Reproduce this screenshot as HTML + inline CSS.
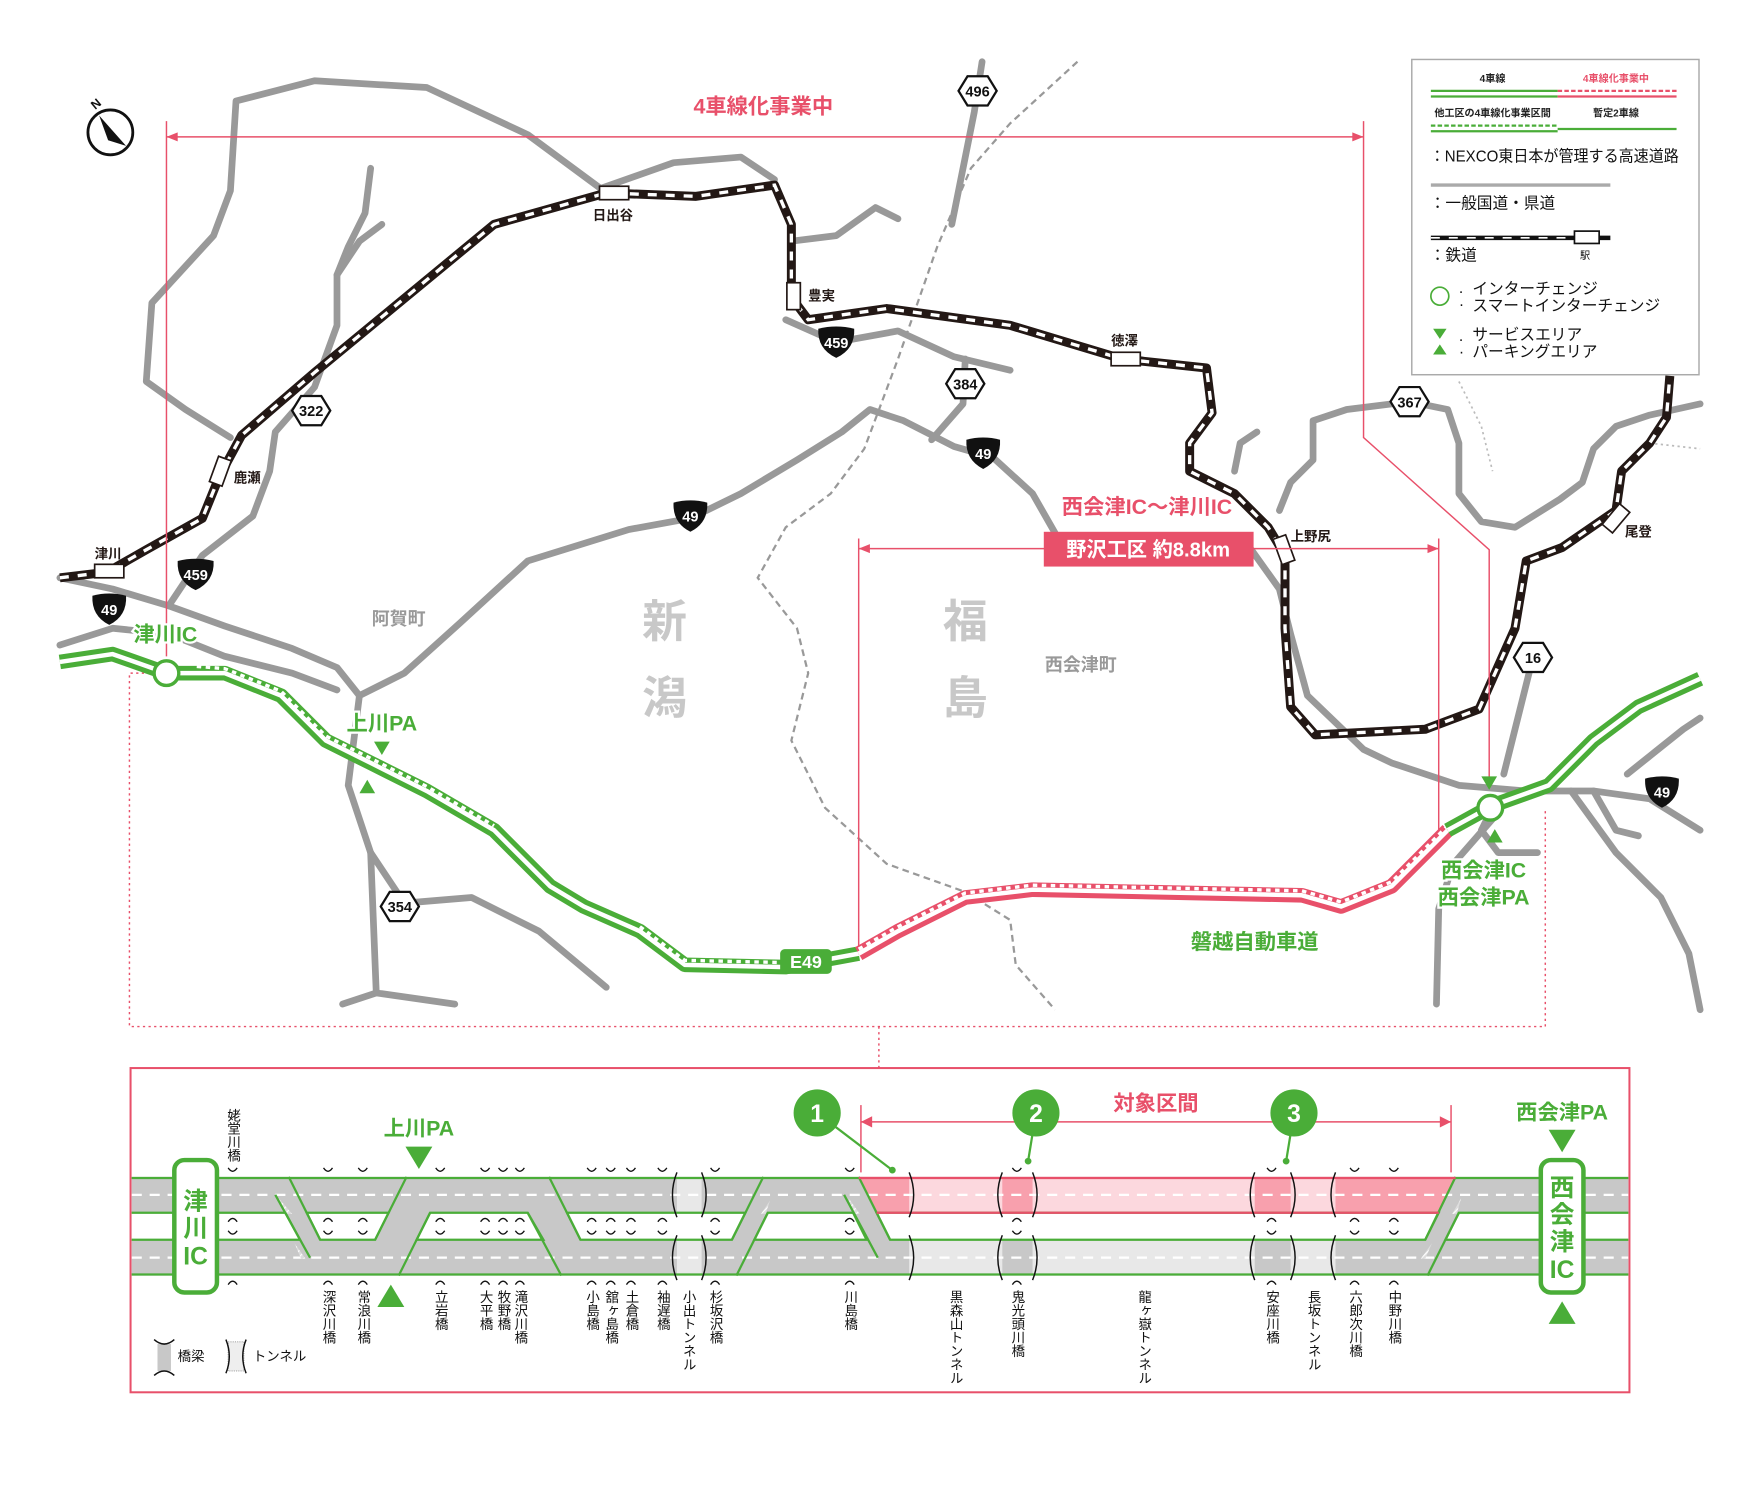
<!DOCTYPE html>
<html><head><meta charset="utf-8">
<style>
html,body{margin:0;padding:0;background:#fff;}
svg{display:block;}
text{font-family:"Liberation Sans","Noto Sans CJK JP",sans-serif;}
</style></head>
<body>
<svg width="1760" height="1500" viewBox="0 0 1568 1337" xmlns="http://www.w3.org/2000/svg">
<defs>
<pattern id="hat" width="4" height="4" patternUnits="userSpaceOnUse" patternTransform="rotate(45)"><rect width="4" height="4" fill="#ddd"/><line x1="0" y1="0" x2="0" y2="4" stroke="#fff" stroke-width="2"/></pattern>
</defs>
<rect width="1568" height="1337" fill="#fff"/>

<!-- prefecture boundary -->
<path d="M960,55 L900,110 L865,150 L835,220 L800,320 L770,400 L740,440 L700,470 L675,515 L710,560 L720,600 L705,660 L735,720 L790,770 L860,795 L900,820 L905,860 L940,900" fill="none" stroke="#999" stroke-width="2" stroke-dasharray="6 4"/>
<path d="M1300,340 L1320,380 L1330,420" fill="none" stroke="#bbb" stroke-width="1.5" stroke-dasharray="2 3"/>
<path d="M1470,395 L1515,400" fill="none" stroke="#bbb" stroke-width="1.5" stroke-dasharray="2 3"/>

<!-- gray roads -->
<g fill="none" stroke="#999" stroke-width="6" stroke-linejoin="round" stroke-linecap="round">
<path d="M205,390 L165,365 L130,340 L135,270 L190,210 L205,170 L210,90 L280,72 L380,78 L470,120 L535,168"/>
<path d="M535,168 L600,145 L660,140 L690,160"/>
<path d="M705,215 L745,210 L780,185 L800,195"/>
<path d="M150,540 L180,495 L225,460 L240,420 L245,385 L280,345 L300,290 L300,245 L310,220 L325,190 L330,150"/>
<path d="M300,245 L320,215 L340,200"/>
<path d="M53,515 L100,525 L150,540 L200,558 L260,578 L300,595 L320,620 L360,600 L410,555 L470,500 L560,472 L615,462 L660,440 L710,410 L750,385 L775,365 L805,375 L850,398 L885,408 L920,440 L940,475"/>
<path d="M830,392 L858,360 L860,320"/>
<path d="M875,55 L868,100 L858,150 L848,200"/>
<path d="M700,285 L745,305 L800,295 L850,318 L900,330"/>
<path d="M320,620 L310,700 L330,760 L335,885 L305,895"/>
<path d="M335,885 L405,895"/>
<path d="M330,760 L360,805 L420,800 L480,830 L540,880"/>
<path d="M53,575 L100,560 L150,565 L200,585 L260,600 L300,615"/>
<path d="M1115,490 L1140,525 L1150,565 L1165,620 L1215,668 L1240,680 L1300,700 L1360,705 L1420,705 L1470,712 L1515,740"/>
<path d="M1140,455 L1150,430 L1170,410 L1170,375 L1200,365 L1256,358 L1290,365 L1300,395 L1300,440 L1320,465 L1350,470 L1390,445 L1410,430 L1420,400 L1440,380 L1470,370 L1515,360"/>
<path d="M1100,420 L1105,395 L1120,385"/>
<path d="M1366,586 L1355,630 L1340,690"/>
<path d="M1330,730 L1295,770 L1282,810 L1280,895"/>
<path d="M1400,705 L1440,760 L1480,800 L1505,850 L1515,900"/>
<path d="M1450,690 L1500,650 L1515,640"/>
<path d="M1420,705 L1440,740 L1460,745"/>
<path d="M1330,720 L1320,740 L1335,760 L1370,760"/>
</g>

<!-- railway -->
<path d="M53,515 L95,510 L130,490 L180,462 L195,425 L215,388 L280,332 L440,200 L540,172 L620,175 L690,165 L705,200 L705,265 L720,285 L790,275 L900,290 L1000,320 L1075,328 L1080,368 L1060,395 L1060,420 L1100,440 L1130,470 L1145,495 L1145,560 L1150,630 L1172,655 L1270,650 L1318,632 L1350,560 L1360,500 L1392,488 L1440,455 L1445,420 L1470,395 L1485,372 L1488,335" fill="none" stroke="#231815" stroke-width="8" stroke-linejoin="round"/>
<path d="M53,515 L95,510 L130,490 L180,462 L195,425 L215,388 L280,332 L440,200 L540,172 L620,175 L690,165 L705,200 L705,265 L720,285 L790,275 L900,290 L1000,320 L1075,328 L1080,368 L1060,395 L1060,420 L1100,440 L1130,470 L1145,495 L1145,560 L1150,630 L1172,655 L1270,650 L1318,632 L1350,560 L1360,500 L1392,488 L1440,455 L1445,420 L1470,395 L1485,372 L1488,335" fill="none" stroke="#fff" stroke-width="3" stroke-dasharray="8 8"/>
<g fill="#fff" stroke="#231815" stroke-width="1.5">
<rect x="84" y="503" width="26" height="12"/>
<rect x="190" y="408" width="12" height="24" transform="rotate(20 196 420)"/>
<rect x="534" y="166" width="26" height="12"/>
<rect x="701" y="252" width="12" height="24"/>
<rect x="990" y="314" width="26" height="12"/>
<rect x="1138" y="478" width="12" height="24" transform="rotate(-20 1144 490)"/>
<rect x="1434" y="450" width="12" height="24" transform="rotate(40 1440 462)"/>
</g>
<g font-size="12" font-weight="bold" fill="#231815">
<text x="84" y="498">津川</text>
<text x="208" y="430">鹿瀬</text>
<text x="528" y="196">日出谷</text>
<text x="720" y="268">豊実</text>
<text x="990" y="308">徳澤</text>
<text x="1150" y="482">上野尻</text>
<text x="1448" y="478">尾登</text>
</g>

<!-- red range markers -->
<g stroke="#e8506a" stroke-width="1.3" fill="none">
<path d="M148,108 L148,585"/>
<path d="M1215,108 L1215,390 L1327,490 L1327,700"/>
<path d="M148,122 L1215,122"/>
<path d="M765,480 L765,850"/>
<path d="M1282,480 L1282,740"/>
<path d="M765,489 L1282,489"/>
</g>
<g fill="#e8506a">
<path d="M148,122 l10,-4 v8z"/><path d="M1215,122 l-10,-4 v8z"/>
<path d="M765,489 l10,-4 v8z"/><path d="M1282,489 l-10,-4 v8z"/>
</g>
<text x="680" y="101" font-size="19" font-weight="bold" fill="#e8506a" text-anchor="middle">4車線化事業中</text>
<text x="1022" y="458" font-size="19" font-weight="bold" fill="#e8506a" text-anchor="middle" stroke="#fff" stroke-width="4" paint-order="stroke">西会津IC〜津川IC</text>
<rect x="930" y="474" width="187" height="31" fill="#e8506a"/>
<text x="1023" y="496" font-size="18" font-weight="bold" fill="#fff" text-anchor="middle">野沢工区  約8.8km</text>

<!-- dotted frame -->
<path d="M148,600 L115,600 L115,915 L1377,915 L1377,720" fill="none" stroke="#e8506a" stroke-width="1.3" stroke-dasharray="2 3"/>
<path d="M783,915 L783,952" fill="none" stroke="#e8506a" stroke-width="1.3" stroke-dasharray="2 3"/>

<!-- expressway -->
<g fill="none" stroke-linejoin="round">
<path d="M53,590 L100,583 L148,600 L200,600 L250,620 L290,660 L330,680 L380,705 L440,740 L490,790 L520,808 L570,830 L610,860 L700,862 L765,850" stroke="#4aad38" stroke-width="13"/>
<path d="M53,590 L100,583 L148,600 L200,600 L250,620 L290,660 L330,680 L380,705 L440,740 L490,790 L520,808 L570,830 L610,860 L700,862 L765,850" stroke="#fff" stroke-width="4"/>
<path d="M175,598 L200,600 L250,620 L290,660 L330,680 L380,705 L440,740" stroke="#fff" stroke-width="3" stroke-dasharray="4 4" transform="translate(0,-4)"/>
<path d="M570,830 L610,860 L700,862" stroke="#fff" stroke-width="3" stroke-dasharray="4 4" transform="translate(0,-4)"/>
<path d="M765,850 L800,830 L860,800 L920,793 L1160,798 L1195,808 L1240,790 L1290,740" stroke="#e8506a" stroke-width="13"/>
<path d="M765,850 L800,830 L860,800 L920,793 L1160,798 L1195,808 L1240,790 L1290,740" stroke="#fff" stroke-width="4"/>
<path d="M765,850 L800,830 L860,800 L920,793 L1160,798 L1195,808 L1240,790 L1290,740" stroke="#fff" stroke-width="3" stroke-dasharray="4 4" transform="translate(0,-4)"/>
<path d="M1290,740 L1330,718 L1380,700 L1420,660 L1460,630 L1515,605" stroke="#4aad38" stroke-width="13"/>
<path d="M1290,740 L1330,718 L1380,700 L1420,660 L1460,630 L1515,605" stroke="#fff" stroke-width="4"/>
</g>
<circle cx="148" cy="600" r="11" fill="#fff" stroke="#4aad38" stroke-width="3"/>
<circle cx="1328" cy="720" r="11" fill="#fff" stroke="#4aad38" stroke-width="3"/>
<g fill="#4aad38">
<path d="M333,661 h14 l-7,12z"/><path d="M320,707 h14 l-7,-12z"/>
<path d="M1320,692 h14 l-7,12z"/><path d="M1325,751 h14 l-7,-12z"/>
</g>
<rect x="695" y="846" width="46" height="22" rx="4" fill="#4aad38"/>
<text x="718" y="863" font-size="16" font-weight="bold" fill="#fff" text-anchor="middle">E49</text>
<g font-weight="bold" fill="#4aad38" stroke="#fff" stroke-width="4" paint-order="stroke">
<text x="147" y="572" font-size="19" text-anchor="middle">津川IC</text>
<text x="340" y="651" font-size="19" text-anchor="middle">上川PA</text>
<text x="1322" y="782" font-size="19" text-anchor="middle">西会津IC</text>
<text x="1322" y="806" font-size="19" text-anchor="middle">西会津PA</text>
<text x="1118" y="846" font-size="19" text-anchor="middle">磐越自動車道</text>
</g>

<!-- place labels -->
<g fill="#c8c8c8" font-size="40" font-weight="bold" text-anchor="middle">
<text x="592" y="568">新</text><text x="592" y="636">潟</text>
<text x="860" y="568">福</text><text x="860" y="636">島</text>
</g>
<text x="355" y="557" font-size="16" font-weight="bold" fill="#999" text-anchor="middle">阿賀町</text>
<text x="963" y="598" font-size="16" font-weight="bold" fill="#999" text-anchor="middle">西会津町</text>

<!-- route shields -->
<g>
<g transform="translate(97,543)"><path d="M-15,-12 Q0,-16 15,-12 Q16,6 0,14 Q-16,6 -15,-12z" fill="#111"/><text y="5" font-size="13" font-weight="bold" fill="#fff" text-anchor="middle">49</text></g>
<g transform="translate(615,460)"><path d="M-15,-12 Q0,-16 15,-12 Q16,6 0,14 Q-16,6 -15,-12z" fill="#111"/><text y="5" font-size="13" font-weight="bold" fill="#fff" text-anchor="middle">49</text></g>
<g transform="translate(876,404)"><path d="M-15,-12 Q0,-16 15,-12 Q16,6 0,14 Q-16,6 -15,-12z" fill="#111"/><text y="5" font-size="13" font-weight="bold" fill="#fff" text-anchor="middle">49</text></g>
<g transform="translate(1481,706)"><path d="M-15,-12 Q0,-16 15,-12 Q16,6 0,14 Q-16,6 -15,-12z" fill="#111"/><text y="5" font-size="13" font-weight="bold" fill="#fff" text-anchor="middle">49</text></g>
<g transform="translate(174,512)"><path d="M-16,-12 Q0,-16 16,-12 Q17,6 0,14 Q-17,6 -16,-12z" fill="#111"/><text y="5" font-size="13" font-weight="bold" fill="#fff" text-anchor="middle">459</text></g>
<g transform="translate(745,305)"><path d="M-16,-12 Q0,-16 16,-12 Q17,6 0,14 Q-17,6 -16,-12z" fill="#111"/><text y="5" font-size="13" font-weight="bold" fill="#fff" text-anchor="middle">459</text></g>
</g>
<g fill="#fff" stroke="#111" stroke-width="2">
<path d="M-17,0 L-9,-13 L9,-13 L17,0 L9,13 L-9,13z" transform="translate(871,81)"/>
<path d="M-17,0 L-9,-13 L9,-13 L17,0 L9,13 L-9,13z" transform="translate(277,366)"/>
<path d="M-17,0 L-9,-13 L9,-13 L17,0 L9,13 L-9,13z" transform="translate(860,342)"/>
<path d="M-17,0 L-9,-13 L9,-13 L17,0 L9,13 L-9,13z" transform="translate(1256,358)"/>
<path d="M-17,0 L-9,-13 L9,-13 L17,0 L9,13 L-9,13z" transform="translate(1366,586)"/>
<path d="M-17,0 L-9,-13 L9,-13 L17,0 L9,13 L-9,13z" transform="translate(356,808)"/>
</g>
<g font-size="13" font-weight="bold" fill="#111" text-anchor="middle">
<text x="871" y="86">496</text><text x="277" y="371">322</text><text x="860" y="347">384</text>
<text x="1256" y="363">367</text><text x="1366" y="591">16</text><text x="356" y="813">354</text>
</g>

<!-- compass -->
<circle cx="98" cy="118" r="20" fill="#fff" stroke="#111" stroke-width="2.5"/>
<path d="M88,103 L112,130 L96,125z" fill="#111"/>
<text x="82" y="99" font-size="11" font-weight="bold" fill="#111" transform="rotate(-40 82 95)">N</text>

<!-- legend -->
<rect x="1258" y="53" width="256" height="281" fill="#fff" stroke="#aaa" stroke-width="1.3"/>
<g font-size="9" font-weight="bold">
<text x="1330" y="73" text-anchor="middle" fill="#222">4車線</text>
<text x="1440" y="73" text-anchor="middle" fill="#e8506a">4車線化事業中</text>
<text x="1330" y="104" text-anchor="middle" fill="#222">他工区の4車線化事業区間</text>
<text x="1440" y="104" text-anchor="middle" fill="#222">暫定2車線</text>
</g>
<g stroke-width="2">
<line x1="1275" y1="81" x2="1388" y2="81" stroke="#4aad38"/><line x1="1275" y1="86" x2="1388" y2="86" stroke="#4aad38"/>
<line x1="1388" y1="81" x2="1494" y2="81" stroke="#e8506a" stroke-dasharray="4 2"/><line x1="1388" y1="86" x2="1494" y2="86" stroke="#e8506a"/>
<line x1="1275" y1="112" x2="1388" y2="112" stroke="#4aad38" stroke-dasharray="4 2"/><line x1="1275" y1="117" x2="1388" y2="117" stroke="#4aad38"/>
<line x1="1388" y1="115" x2="1494" y2="115" stroke="#4aad38"/>
<line x1="1275" y1="165" x2="1435" y2="165" stroke="#aaa" stroke-width="3"/>
</g>
<line x1="1275" y1="212" x2="1435" y2="212" stroke="#111" stroke-width="4"/>
<line x1="1275" y1="212" x2="1400" y2="212" stroke="#fff" stroke-width="1.5" stroke-dasharray="8 8"/>
<rect x="1403" y="206" width="22" height="11" fill="#fff" stroke="#111" stroke-width="1.5"/>
<g font-size="14" fill="#111">
<text x="1274" y="144" textLength="222" lengthAdjust="spacingAndGlyphs">：NEXCO東日本が管理する高速道路</text>
<text x="1274" y="186">：一般国道・県道</text>
<text x="1274" y="232">：鉄道</text>
<text x="1408" y="231" font-size="9">駅</text>
<text x="1300" y="261">.</text><text x="1300" y="276">·</text>
<text x="1312" y="262">インターチェンジ</text>
<text x="1312" y="277">スマートインターチェンジ</text>
<text x="1300" y="304">.</text><text x="1300" y="318">·</text>
<text x="1312" y="303">サービスエリア</text>
<text x="1312" y="318">パーキングエリア</text>
</g>
<circle cx="1283" cy="264" r="8" fill="none" stroke="#4aad38" stroke-width="1.5"/>
<path d="M1277,293 h12 l-6,9z M1277,316 h12 l-6,-9z" fill="#4aad38"/>

<!-- ===== bottom diagram ===== -->
<rect x="116" y="952" width="1336" height="289" fill="#fff" stroke="#e8506a" stroke-width="1.8"/>
<rect x="117" y="1049" width="1334" height="88" fill="#c8c8c8"/>
<path d="M765,1049 L1297,1049 L1282,1081 L781,1081z" fill="#f8a0ad"/>
<rect x="810" y="1049" width="83" height="32" fill="#fcd8de"/>
<rect x="920" y="1049" width="198" height="32" fill="#fcd8de"/>
<rect x="1150" y="1049" width="40" height="32" fill="#fcd8de"/>
<rect x="810" y="1105" width="83" height="32" fill="#e8e8e8"/>
<rect x="920" y="1105" width="198" height="32" fill="#e8e8e8"/>
<rect x="1150" y="1105" width="40" height="32" fill="#e8e8e8"/>
<rect x="603" y="1049" width="22" height="32" fill="#e8e8e8"/>
<rect x="603" y="1105" width="22" height="32" fill="#e8e8e8"/>
<g stroke="#fff" stroke-width="2" stroke-dasharray="9 7">
<line x1="117" y1="1065" x2="1451" y2="1065"/>
<line x1="117" y1="1121" x2="1451" y2="1121"/>
</g>
<g fill="url(#hat)">
<path d="M248,1068 l12,14 h-6z"/><path d="M262,1108 l10,14 h-4z"/>
<path d="M686,1070 l-4,12 h-4z"/><path d="M756,1068 l10,14 h-6z"/>
<path d="M1302,1068 l-4,14 h-4z"/><path d="M1276,1108 l-6,14 h-4z"/>
</g>
<g fill="#fff" stroke="#4aad38" stroke-width="2">
<path d="M117,1081 L254,1081 L267,1105 L117,1105"/>
<path d="M273,1081 L346,1081 L334,1105 L285,1105z"/>
<path d="M383,1081 L470,1081 L484,1105 L371,1105z"/>
<path d="M505,1081 L664,1081 L652,1105 L517,1105z"/>
<path d="M684,1081 L760,1081 L772,1105 L672,1105z"/>
<path d="M781,1081 L1282,1081 L1270,1105 L793,1105z"/>
<path d="M1451,1081 L1300,1081 L1288,1105 L1451,1105"/>
</g>
<g stroke="#4aad38" stroke-width="2">
<line x1="117" y1="1050" x2="765" y2="1050"/><line x1="1297" y1="1050" x2="1451" y2="1050"/>
<line x1="117" y1="1136" x2="1451" y2="1136"/>
<line x1="245" y1="1065" x2="276" y2="1121"/>
<line x1="257" y1="1049" x2="285" y2="1105"/>
<line x1="362" y1="1049" x2="334" y2="1105"/>
<line x1="383" y1="1081" x2="355" y2="1137"/>
<line x1="470" y1="1081" x2="500" y2="1137"/>
<line x1="489" y1="1049" x2="517" y2="1105"/>
<line x1="680" y1="1049" x2="652" y2="1105"/>
<line x1="684" y1="1081" x2="656" y2="1137"/>
<line x1="752" y1="1065" x2="782" y2="1121"/>
<line x1="765" y1="1049" x2="793" y2="1105"/>
<line x1="1297" y1="1049" x2="1270" y2="1105"/>
<line x1="1300" y1="1081" x2="1272" y2="1137"/>
</g>
<g stroke="#e8506a" stroke-width="2">
<line x1="765" y1="1050" x2="1297" y2="1050"/>
<line x1="781" y1="1081" x2="1282" y2="1081"/>
</g>
<g fill="none" stroke="#111" stroke-width="1.3">
<path d="M603,1045 q-8,20 0,40 M625,1045 q8,20 0,40 M603,1101 q-8,20 0,40 M625,1101 q8,20 0,40"/>
<path d="M810,1045 q8,20 0,40 M810,1101 q8,20 0,40"/>
<path d="M893,1045 q-8,20 0,40 M920,1045 q8,20 0,40 M893,1101 q-8,20 0,40 M920,1101 q8,20 0,40"/>
<path d="M1118,1045 q-8,20 0,40 M1150,1045 q8,20 0,40 M1118,1101 q-8,20 0,40 M1150,1101 q8,20 0,40"/>
<path d="M1190,1045 q-8,20 0,40 M1190,1101 q-8,20 0,40"/>
</g>
<g fill="none" stroke="#111" stroke-width="1.2">
<path d="M203,1041 q4,6 8,0 M203,1089 q4,-6 8,0 M203,1097 q4,6 8,0 M203,1145 q4,-6 8,0
M288,1041 q4,6 8,0 M288,1089 q4,-6 8,0 M288,1097 q4,6 8,0 M288,1145 q4,-6 8,0
M319,1041 q4,6 8,0 M319,1089 q4,-6 8,0 M319,1097 q4,6 8,0 M319,1145 q4,-6 8,0
M388,1041 q4,6 8,0 M388,1089 q4,-6 8,0 M388,1097 q4,6 8,0 M388,1145 q4,-6 8,0
M428,1041 q4,6 8,0 M428,1089 q4,-6 8,0 M428,1097 q4,6 8,0 M428,1145 q4,-6 8,0
M444,1041 q4,6 8,0 M444,1089 q4,-6 8,0 M444,1097 q4,6 8,0 M444,1145 q4,-6 8,0
M459,1041 q4,6 8,0 M459,1089 q4,-6 8,0 M459,1097 q4,6 8,0 M459,1145 q4,-6 8,0
M523,1041 q4,6 8,0 M523,1089 q4,-6 8,0 M523,1097 q4,6 8,0 M523,1145 q4,-6 8,0
M540,1041 q4,6 8,0 M540,1089 q4,-6 8,0 M540,1097 q4,6 8,0 M540,1145 q4,-6 8,0
M558,1041 q4,6 8,0 M558,1089 q4,-6 8,0 M558,1097 q4,6 8,0 M558,1145 q4,-6 8,0
M586,1041 q4,6 8,0 M586,1089 q4,-6 8,0 M586,1097 q4,6 8,0 M586,1145 q4,-6 8,0
M633,1041 q4,6 8,0 M633,1089 q4,-6 8,0 M633,1097 q4,6 8,0 M633,1145 q4,-6 8,0
M753,1041 q4,6 8,0 M753,1089 q4,-6 8,0 M753,1097 q4,6 8,0 M753,1145 q4,-6 8,0
M902,1041 q4,6 8,0 M902,1089 q4,-6 8,0 M902,1097 q4,6 8,0 M902,1145 q4,-6 8,0
M1129,1041 q4,6 8,0 M1129,1089 q4,-6 8,0 M1129,1097 q4,6 8,0 M1129,1145 q4,-6 8,0
M1203,1041 q4,6 8,0 M1203,1089 q4,-6 8,0 M1203,1097 q4,6 8,0 M1203,1145 q4,-6 8,0
M1238,1041 q4,6 8,0 M1238,1089 q4,-6 8,0 M1238,1097 q4,6 8,0 M1238,1145 q4,-6 8,0"/>
</g>
<rect x="155" y="1034" width="38" height="118" rx="9" fill="#fff" stroke="#4aad38" stroke-width="4"/>
<rect x="1373" y="1034" width="38" height="118" rx="9" fill="#fff" stroke="#4aad38" stroke-width="4"/>
<g fill="#4aad38" font-weight="bold" font-size="22" text-anchor="middle">
<text x="174" y="1078">津</text><text x="174" y="1102">川</text><text x="174" y="1127">IC</text>
<text x="1392" y="1066">西</text><text x="1392" y="1090">会</text><text x="1392" y="1114">津</text><text x="1392" y="1139">IC</text>
<text x="373" y="1012" font-size="19">上川PA</text>
<text x="1392" y="998" font-size="19">西会津PA</text>
</g>
<g fill="#4aad38">
<path d="M361,1022 h24 l-12,20z"/><path d="M336,1165 h24 l-12,-20z"/>
<path d="M1380,1007 h24 l-12,20z"/><path d="M1380,1180 h24 l-12,-20z"/>
</g>
<g stroke="#e8506a" stroke-width="1.3"><line x1="767" y1="985" x2="767" y2="1045"/><line x1="1293" y1="985" x2="1293" y2="1045"/><line x1="767" y1="1000" x2="1293" y2="1000"/></g>
<path d="M767,1000 l10,-5 v10z M1293,1000 l-10,-5 v10z" fill="#e8506a"/>
<text x="1030" y="990" font-size="19" font-weight="bold" fill="#e8506a" text-anchor="middle">対象区間</text>
<g stroke="#4aad38" stroke-width="2"><line x1="728" y1="992" x2="795" y2="1043"/><line x1="923" y1="992" x2="916" y2="1035"/><line x1="1153" y1="992" x2="1146" y2="1035"/></g>
<g fill="#4aad38"><circle cx="795" cy="1043" r="3"/><circle cx="916" cy="1035" r="3"/><circle cx="1146" cy="1035" r="3"/>
<circle cx="728" cy="992" r="21"/><circle cx="923" cy="992" r="21"/><circle cx="1153" cy="992" r="21"/></g>
<g fill="#fff" font-size="22" font-weight="bold" text-anchor="middle"><text x="728" y="1000">1</text><text x="923" y="1000">2</text><text x="1153" y="1000">3</text></g>
<g font-size="12" fill="#111" style="writing-mode:vertical-rl">
<text x="207" y="988">姥堂川橋</text>
<text x="292" y="1150">深沢川橋</text>
<text x="323" y="1150">常浪川橋</text>
<text x="392" y="1150">立岩橋</text>
<text x="432" y="1150">大平橋</text>
<text x="448" y="1150">牧野橋</text>
<text x="463" y="1150">滝沢川橋</text>
<text x="527" y="1150">小島橋</text>
<text x="544" y="1150">舘ヶ島橋</text>
<text x="562" y="1150">土倉橋</text>
<text x="590" y="1150">袖遅橋</text>
<text x="613" y="1150">小出トンネル</text>
<text x="637" y="1150">杉坂沢橋</text>
<text x="757" y="1150">川島橋</text>
<text x="851" y="1150">黒森山トンネル</text>
<text x="906" y="1150">鬼光頭川橋</text>
<text x="1019" y="1150">龍ヶ嶽トンネル</text>
<text x="1133" y="1150">安座川橋</text>
<text x="1170" y="1150">長坂トンネル</text>
<text x="1207" y="1150">六郎次川橋</text>
<text x="1242" y="1150">中野川橋</text>
</g>
<rect x="140" y="1198" width="12" height="24" fill="#c8c8c8"/>
<path d="M137,1194 q9,8 18,0 M137,1226 q9,-8 18,0" fill="none" stroke="#111" stroke-width="1.3"/>
<text x="158" y="1213" font-size="12" fill="#111">橋梁</text>
<rect x="203" y="1196" width="14" height="26" fill="#eee" stroke="#aaa" stroke-dasharray="1 1"/>
<path d="M201,1194 q6,15 0,30 M219,1194 q-6,15 0,30" fill="none" stroke="#111" stroke-width="1.3"/>
<text x="225" y="1213" font-size="12" fill="#111">トンネル</text>
</svg>
</body></html>
